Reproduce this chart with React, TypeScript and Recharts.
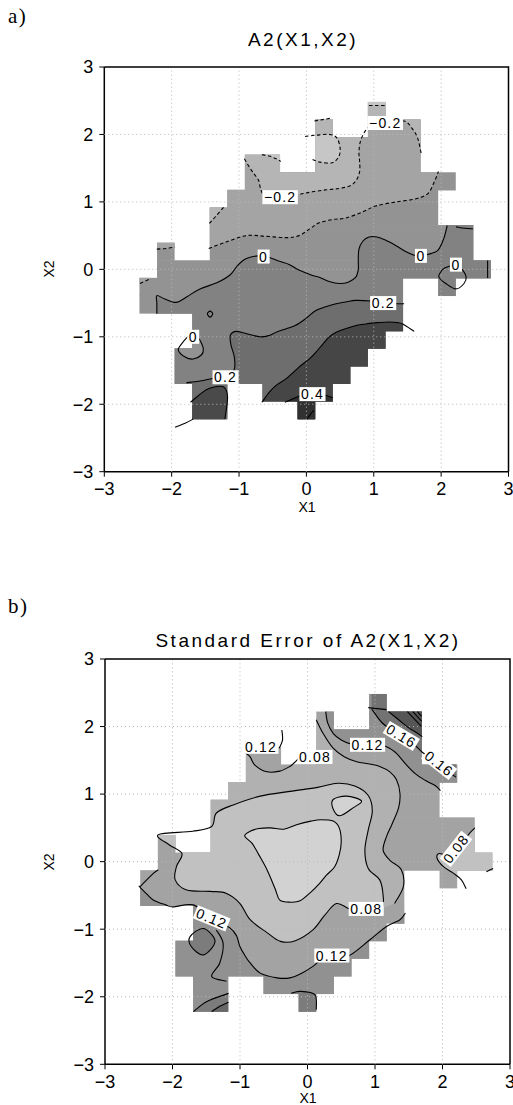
import React from 'react';
import { ScatterChart, Scatter, XAxis, YAxis } from 'recharts';

type P = [number, number];
interface Fill { color: string; line: P[]; close?: P[] }
interface Iso { pts: P[]; dash?: boolean; closed?: boolean }
interface Tag { x: number; y: number; t: string; r?: number }

const CELL = 6 / 23;
const TICKS = [-3, -2, -1, 0, 1, 2, 3];
const GRID = [-2, -1, 0, 1, 2];

// occupied grid cells per row: [row from top, first column, last column]
const MASK_ROWS: [number, number, number][] = [
  [2, 15, 15], [3, 12, 12], [3, 15, 17], [4, 12, 17], [5, 8, 9], [5, 12, 17],
  [6, 8, 19], [7, 7, 18], [8, 6, 18], [9, 6, 20], [10, 3, 3], [10, 6, 20],
  [11, 3, 21], [12, 2, 16], [12, 19, 19], [13, 2, 16], [14, 5, 16], [15, 5, 15],
  [16, 4, 14], [17, 4, 13], [18, 5, 6], [18, 9, 12], [19, 5, 6], [19, 11, 11],
];

// ---------- panel a : A2(X1,X2) ----------
const A_M03_LOOP: P[] = [[-0.02, 1.97], [0.15, 1.99], [0.34, 2.0], [0.45, 1.95], [0.5, 1.8], [0.48, 1.67], [0.38, 1.58], [0.2, 1.59], [0.09, 1.63]];
const A_M03_B: P[] = [[-0.66, 1.7], [-0.55, 1.68], [-0.45, 1.64], [-0.38, 1.6]];
const A_M03_C: P[] = [[0.93, 2.43], [1.05, 2.43], [1.17, 2.43]];
const A_M03_D: P[] = [[0.12, 2.2], [0.24, 2.22], [0.36, 2.24]];
const A_M02: P[] = [[-0.92, 1.64], [-0.85, 1.52], [-0.78, 1.42], [-0.71, 1.32], [-0.68, 1.2], [-0.62, 1.1], [-0.4, 1.08], [-0.12, 1.11], [0.09, 1.15], [0.3, 1.18], [0.49, 1.2], [0.65, 1.24], [0.74, 1.32], [0.79, 1.45], [0.79, 1.6], [0.78, 1.72], [0.8, 1.89], [0.88, 2.06], [1.0, 2.15], [1.2, 2.18], [1.45, 2.2], [1.56, 2.1], [1.65, 1.95], [1.71, 1.69]];
const A_M02_B: P[] = [[-1.44, 0.68], [-1.35, 0.78], [-1.23, 0.92]];
const A_M01: P[] = [[-1.45, 0.31], [-1.18, 0.41], [-0.89, 0.5], [-0.6, 0.49], [-0.3, 0.47], [-0.11, 0.5], [0.05, 0.6], [0.19, 0.69], [0.4, 0.74], [0.58, 0.76], [0.83, 0.85], [1.03, 0.94], [1.33, 1.0], [1.6, 1.04], [1.8, 1.12], [1.9, 1.3], [1.96, 1.45]];
const A_M01_B: P[] = [[-2.22, 0.3], [-2.08, 0.31], [-1.95, 0.33]];
const A_M01_C: P[] = [[-2.47, -0.21], [-2.32, -0.14]];
const A_Z: P[] = [[-2.22, -0.66], [-2.22, -0.5], [-2.22, -0.39], [-2.1, -0.44], [-1.93, -0.49], [-1.78, -0.41], [-1.58, -0.29], [-1.33, -0.2], [-1.13, -0.08], [-1.02, 0.06], [-0.89, 0.16], [-0.72, 0.2], [-0.56, 0.18], [-0.4, 0.12], [-0.25, 0.07], [-0.11, -0.01], [0.09, -0.09], [0.2, -0.12], [0.34, -0.18], [0.49, -0.21], [0.62, -0.19], [0.73, -0.12], [0.77, 0.0], [0.77, 0.13], [0.78, 0.3], [0.84, 0.42], [0.93, 0.48], [1.05, 0.48], [1.18, 0.43], [1.33, 0.35], [1.48, 0.26], [1.6, 0.21], [1.7, 0.2], [1.8, 0.22], [1.95, 0.28], [2.04, 0.46], [2.09, 0.65]];
const A_Z_LOOP_L: P[] = [[-1.72, -0.97], [-1.85, -1.1], [-1.9, -1.2], [-1.8, -1.3], [-1.68, -1.33], [-1.56, -1.27], [-1.53, -1.18], [-1.58, -1.05], [-1.64, -0.98]];
const A_Z_DIAMOND: P[] = [[-1.43, -0.62], [-1.39, -0.66], [-1.43, -0.71], [-1.47, -0.66]];
const A_Z_LOOP_R: P[] = [[2.05, 0.02], [1.98, -0.06], [1.97, -0.12], [2.07, -0.21], [2.22, -0.29], [2.34, -0.21], [2.37, -0.11], [2.3, 0.01], [2.22, 0.06]];
const A_P1_R1: P[] = [[2.22, 0.63], [2.35, 0.61], [2.47, 0.6]];
const A_P1_R2: P[] = [[2.69, 0.13], [2.69, -0.13]];
const A_P2: P[] = [[-1.78, -1.68], [-1.6, -1.66], [-1.45, -1.63], [-1.3, -1.6], [-1.15, -1.58], [-1.07, -1.48], [-1.07, -1.3], [-1.12, -1.12], [-1.13, -0.98], [-1.05, -0.92], [-0.9, -0.95], [-0.69, -1.0], [-0.55, -0.98], [-0.44, -0.93], [-0.3, -0.88], [-0.16, -0.83], [-0.01, -0.73], [0.14, -0.61], [0.3, -0.55], [0.44, -0.51], [0.6, -0.48], [0.73, -0.46], [0.95, -0.47], [1.14, -0.5], [1.33, -0.51], [1.45, -0.51]];
const A_P3_L: P[] = [[-1.72, -1.97], [-1.6, -1.87], [-1.48, -1.78], [-1.35, -1.74], [-1.22, -1.75], [-1.17, -1.9], [-1.21, -2.22]];
const A_P3: P[] = [[-0.66, -1.97], [-0.55, -1.82], [-0.45, -1.72], [-0.3, -1.62], [-0.11, -1.45], [0.04, -1.33], [0.14, -1.23], [0.25, -1.1], [0.34, -1.0], [0.45, -0.93], [0.58, -0.88], [0.75, -0.83], [0.88, -0.81], [1.05, -0.79], [1.23, -0.78], [1.35, -0.79], [1.43, -0.81], [1.6, -0.92]];
const A_P4_L: P[] = [[-1.95, -2.34], [-1.8, -2.28], [-1.68, -2.22]];
const A_P4: P[] = [[-0.32, -1.97], [-0.2, -1.92], [-0.05, -1.86], [0.09, -1.85], [0.25, -1.86], [0.39, -1.9]];
const A_P5: P[] = [[0.01, -2.22], [0.06, -2.15], [0.11, -2.09]];

const A_BASE = '#939393';
const A_FILLS: Fill[] = [
  { color: '#a4a4a4', line: A_M01, close: [[3, 1.45], [3, 3], [-3, 3], [-3, 0.31]] },
  { color: '#a4a4a4', line: A_M01_C, close: [[-2.3, -0.05], [-2.55, -0.05], [-2.55, -0.22]] },
  { color: '#b5b5b5', line: A_M02, close: [[1.75, 1.69], [1.75, 3], [-0.95, 3], [-0.95, 1.64]] },
  { color: '#b5b5b5', line: A_M02_B, close: [[-1.2, 1.2], [-1.6, 1.2], [-1.6, 0.68]] },
  { color: '#c6c6c6', line: A_M03_LOOP },
  { color: '#c6c6c6', line: A_M03_B, close: [[-0.38, 1.75], [-0.66, 1.75]] },
  { color: '#c6c6c6', line: A_M03_C, close: [[1.2, 2.5], [0.9, 2.5]] },
  { color: '#828282', line: A_Z, close: [[2.15, 0.9], [3, 0.9], [3, -3], [-3, -3], [-3, -0.8], [-2.3, -0.8]] },
  { color: '#939393', line: A_Z_LOOP_L },
  { color: '#6e6e6e', line: A_P2, close: [[3, -0.51], [3, -3], [-1.8, -3]] },
  { color: '#4a4a4a', line: A_P3_L, close: [[-1.21, -2.3], [-1.75, -2.3]] },
  { color: '#464646', line: A_P3, close: [[3, -0.92], [3, -3], [-0.66, -3]] },
  { color: '#313131', line: A_P4, close: [[0.45, -2.5], [-0.35, -2.5]] },
];
const A_ISOS: Iso[] = [
  { pts: A_M03_LOOP, dash: true }, { pts: A_M03_B, dash: true }, { pts: A_M03_C, dash: true }, { pts: A_M03_D, dash: true },
  { pts: A_M02, dash: true }, { pts: A_M02_B, dash: true },
  { pts: A_M01, dash: true }, { pts: A_M01_B, dash: true }, { pts: A_M01_C, dash: true },
  { pts: A_Z }, { pts: A_Z_LOOP_L, closed: true }, { pts: A_Z_DIAMOND, closed: true }, { pts: A_Z_LOOP_R, closed: true },
  { pts: A_P1_R1 }, { pts: A_P1_R2 },
  { pts: A_P2 }, { pts: A_P3_L }, { pts: A_P3 }, { pts: A_P4_L }, { pts: A_P4 }, { pts: A_P5 },
];
const A_TAGS: Tag[] = [
  { x: -0.39, y: 1.07, t: '−0.2' }, { x: 1.17, y: 2.17, t: '−0.2' },
  { x: -0.635, y: 0.19, t: '0' }, { x: 1.7, y: 0.2, t: '0' }, { x: 2.22, y: 0.07, t: '0' }, { x: -1.68, y: -1.0, t: '0' },
  { x: 1.14, y: -0.5, t: '0.2' }, { x: -1.2, y: -1.6, t: '0.2' }, { x: 0.09, y: -1.85, t: '0.4' },
];

// ---------- panel b : standard error ----------
const B_BLOB: P[] = [[-0.93, 0.38], [-0.85, 0.45], [-0.72, 0.49], [-0.55, 0.5], [-0.35, 0.48], [-0.15, 0.55], [0.05, 0.6], [0.2, 0.62], [0.38, 0.6], [0.47, 0.5], [0.5, 0.3], [0.47, 0.1], [0.4, -0.08], [0.28, -0.2], [0.18, -0.32], [0.05, -0.45], [-0.11, -0.58], [-0.25, -0.6], [-0.41, -0.57], [-0.48, -0.4], [-0.6, -0.12], [-0.72, 0.1], [-0.82, 0.27]];
const B_LOBE: P[] = [[0.38, 0.92], [0.58, 0.97], [0.8, 0.9], [0.68, 0.8], [0.48, 0.68], [0.38, 0.78]];
const B_08: P[] = [[-1.42, 0.52], [-1.7, 0.45], [-2.21, 0.4], [-2.05, 0.25], [-1.86, 0.12], [-1.94, -0.07], [-1.96, -0.27], [-1.79, -0.42], [-1.44, -0.44], [-1.2, -0.47], [-1.0, -0.62], [-0.85, -0.86], [-0.6, -1.05], [-0.4, -1.18], [-0.18, -1.17], [0.08, -1.01], [0.25, -0.8], [0.43, -0.62], [0.63, -0.7], [0.87, -0.7], [1.1, -0.68], [1.12, -0.5], [1.07, -0.27], [0.9, -0.1], [0.85, 0.17], [0.9, 0.47], [0.96, 0.75], [0.9, 0.98], [0.7, 1.12], [0.45, 1.16], [0.15, 1.1], [-0.26, 1.04], [-0.7, 0.97], [-1.1, 0.84], [-1.35, 0.72]];
const B_10_R: P[] = [[1.29, -0.62], [1.42, -0.37], [1.39, -0.12], [1.22, 0.02], [1.12, 0.17], [1.17, 0.37], [1.25, 0.55], [1.35, 0.8], [1.37, 1.01], [1.32, 1.21], [1.22, 1.33], [1.07, 1.41], [0.9, 1.45], [0.73, 1.48], [0.55, 1.55], [0.38, 1.68], [0.23, 1.9], [0.13, 2.1]];
const B_SUB10_CLOSE: P[] = [[0.05, 1.7], [-0.2, 1.46], [-0.26, 1.41], [-0.41, 1.34], [-0.6, 1.33], [-0.78, 1.43], [-0.88, 1.6], [-0.97, 1.62], [-1.2, 1.2], [-1.48, 0.9], [-1.46, 0.52], [-1.7, 0.46], [-2.22, 0.41], [-2.06, 0.25], [-1.87, 0.12], [-1.95, -0.07], [-1.97, -0.28], [-1.79, -0.43], [-1.44, -0.45], [-1.2, -0.48], [-1.0, -0.63], [-0.85, -0.87], [-0.6, -1.06], [-0.4, -1.19], [-0.18, -1.18], [0.08, -1.02], [0.25, -0.81], [0.43, -0.63], [0.63, -0.71], [0.87, -0.71], [1.11, -0.69]];
const B_U: P[] = [[-0.93, 1.62], [-0.85, 1.55], [-0.78, 1.43], [-0.6, 1.33], [-0.41, 1.34], [-0.26, 1.41], [-0.2, 1.46], [-0.14, 1.52]];
const B_08_R: P[] = [[2.48, 0.5], [2.4, 0.42], [2.3, 0.3], [2.2, 0.19], [2.08, 0.1], [1.95, 0.12], [1.92, 0.05], [2.01, -0.07], [2.16, -0.17], [2.28, -0.27], [2.35, -0.4]];
const B_12_PAREN: P[] = [[-0.38, 1.95], [-0.37, 1.8], [-0.42, 1.68]];
const B_12_TR: P[] = [[0.27, 2.22], [0.3, 2.05], [0.38, 1.9], [0.5, 1.8], [0.65, 1.74], [0.89, 1.73], [1.12, 1.72], [1.3, 1.62], [1.45, 1.45], [1.6, 1.3], [1.75, 1.2], [1.9, 1.12], [1.97, 1.05]];
const B_16: P[] = [[0.95, 2.26], [1.1, 2.06], [1.25, 1.95], [1.39, 1.86], [1.55, 1.76], [1.7, 1.62], [1.85, 1.52], [1.95, 1.45], [2.1, 1.32], [2.2, 1.25]];
const B_18: P[] = [[1.2, 2.22], [1.35, 2.1], [1.5, 1.98], [1.6, 1.92], [1.7, 1.85]];
const B_H1: P[] = [[1.48, 2.22], [1.69, 2.0]];
const B_H2: P[] = [[1.56, 2.22], [1.69, 2.08]];
const B_H3: P[] = [[1.63, 2.22], [1.69, 2.15]];
const B_TOP: P[] = [[0.9, 2.28], [1.17, 2.25]];
const B_12_BL: P[] = [[-2.5, -0.36], [-2.38, -0.48], [-2.28, -0.57], [-2.1, -0.64], [-1.99, -0.67], [-1.69, -0.64], [-1.42, -0.84], [-1.15, -0.98], [-1.05, -1.1], [-1.0, -1.26], [-0.92, -1.4], [-0.85, -1.5], [-0.7, -1.65], [-0.45, -1.72], [-0.26, -1.72], [-0.1, -1.66], [0.08, -1.55], [0.2, -1.45], [0.36, -1.39], [0.6, -1.4], [0.92, -1.16], [1.17, -0.96], [1.37, -0.86], [1.45, -0.76]];
const B_12_UP: P[] = [[-2.48, -0.37], [-2.28, -0.17], [-2.21, -0.12]];
const B_14_C: P[] = [[-1.74, -1.11], [-1.54, -0.99], [-1.37, -1.18], [-1.54, -1.38], [-1.72, -1.26]];
const B_14_L: P[] = [[-1.35, -1.01], [-1.25, -1.21], [-1.3, -1.5], [-1.42, -1.7], [-1.2, -1.77]];
const B_BOT1: P[] = [[-1.69, -2.22], [-1.49, -2.07], [-1.17, -1.95]];
const B_BOT2: P[] = [[-1.42, -2.22], [-1.3, -2.14], [-1.17, -2.08]];
const B_BOT3: P[] = [[-0.24, -1.95], [-0.11, -1.92], [0.11, -1.97], [0.13, -2.19]];
const B_RB: P[] = [[2.65, -0.15], [2.75, -0.1]];

const B_BASE = '#a3a3a3';
const B_FILLS: Fill[] = [
  { color: '#b1b1b1', line: B_10_R, close: B_SUB10_CLOSE },
  { color: '#c1c1c1', line: B_08 },
  { color: '#c1c1c1', line: B_08_R, close: [[3, -0.4], [3, 0.5]] },
  { color: '#d2d2d2', line: B_BLOB },
  { color: '#d2d2d2', line: B_LOBE },
  { color: '#919191', line: B_12_TR, close: [[3, 1.05], [3, 3], [0.27, 3]] },
  { color: '#919191', line: B_12_BL, close: [[1.45, -3], [-2.5, -3]] },
  { color: '#737373', line: B_16, close: [[2.2, 3], [0.95, 3]] },
  { color: '#565656', line: B_18, close: [[1.7, 2.3], [1.2, 2.3]] },
  { color: '#7c7c7c', line: B_14_C },
  { color: '#7c7c7c', line: B_BOT1, close: [[-1.17, -2.3], [-1.69, -2.3]] },
  { color: '#686868', line: B_BOT2, close: [[-1.17, -2.3], [-1.42, -2.3]] },
  { color: '#7c7c7c', line: B_BOT3, close: [[0.13, -2.3], [-0.24, -2.3]] },
];
const B_ISOS: Iso[] = [
  { pts: B_BLOB, closed: true }, { pts: B_LOBE, closed: true }, { pts: B_08, closed: true }, { pts: B_08_R },
  { pts: B_10_R }, { pts: B_U }, { pts: B_12_PAREN },
  { pts: B_12_TR }, { pts: B_16 }, { pts: B_18 }, { pts: B_H1 }, { pts: B_H2 }, { pts: B_H3 }, { pts: B_TOP },
  { pts: B_12_BL }, { pts: B_12_UP }, { pts: B_14_C, closed: true }, { pts: B_14_L },
  { pts: B_BOT1 }, { pts: B_BOT2 }, { pts: B_BOT3 }, { pts: B_RB },
];
const B_TAGS: Tag[] = [
  { x: -0.69, y: 1.7, t: '0.12' }, { x: 0.11, y: 1.55, t: '0.08' }, { x: 0.89, y: 1.73, t: '0.12' },
  { x: 1.39, y: 1.86, t: '0.16', r: 31 }, { x: 1.95, y: 1.45, t: '0.16', r: 38 },
  { x: 2.2, y: 0.19, t: '0.08', r: -52 }, { x: 0.87, y: -0.7, t: '0.08' }, { x: 0.36, y: -1.39, t: '0.12' },
  { x: -1.42, y: -0.84, t: '0.12', r: 22 },
];

// ---------- rendering ----------
const FONT = '"Liberation Sans", Arial, Helvetica, sans-serif';
const SERIF = '"Liberation Serif", "Times New Roman", serif';
type XY = { x: number; y: number };
const toXY = (pts: P[]) => pts.map(([x, y]) => ({ x, y }));
const f2 = (v: number) => v.toFixed(2);

const crPath = (pts: XY[], closed: boolean): string => {
  const n = pts.length;
  if (n < 2) return '';
  const get = (i: number) => (closed ? pts[(i + n) % n] : pts[Math.max(0, Math.min(n - 1, i))]);
  let d = `M${f2(pts[0].x)},${f2(pts[0].y)}`;
  const segs = closed ? n : n - 1;
  for (let i = 0; i < segs; i++) {
    const p0 = get(i - 1), p1 = get(i), p2 = get(i + 1), p3 = get(i + 2);
    const c1x = p1.x + (p2.x - p0.x) / 6, c1y = p1.y + (p2.y - p0.y) / 6;
    const c2x = p2.x - (p3.x - p1.x) / 6, c2y = p2.y - (p3.y - p1.y) / 6;
    d += `C${f2(c1x)},${f2(c1y)} ${f2(c2x)},${f2(c2y)} ${f2(p2.x)},${f2(p2.y)}`;
  }
  return closed ? d + 'Z' : d;
};

const NoDot = () => <g />;
const fmt = (v: number) => (v < 0 ? '−' + Math.abs(v) : String(v));

const charW = (c: string) => (c === '.' ? 3.9 : c === '−' ? 8.2 : 7.8);
const TagShape = (sp: any) => {
  const { cx, cy, payload } = sp;
  const t: string = payload.t;
  const ls = 1.2;
  const w = t.split('').reduce((s, c) => s + charW(c) + ls, 0) + 3;
  return (
    <g transform={`translate(${cx},${cy}) rotate(${payload.r || 0})`}>
      <rect x={-w / 2} y={-7} width={w} height={14} fill="#fff" />
      <text x={0} y={5} textAnchor="middle" fontSize={14} fontFamily={FONT} letterSpacing={ls} fill="#000">{t}</text>
    </g>
  );
};

const MASK_PTS: XY[] = MASK_ROWS.flatMap(([m, k0, k1]) => [
  { x: -3 + k0 * CELL, y: 3 - (m + 1) * CELL },
  { x: -3 + (k1 + 1) * CELL, y: 3 - m * CELL },
]);

interface PanelProps {
  id: string; base: string; fills: Fill[]; isos: Iso[]; tags: Tag[];
  height: number; margin: { top: number; right: number; bottom: number; left: number }; yWidth: number;
}

function Panel(p: PanelProps) {
  const clip = `mask-${p.id}`;
  const tickStyle = { fill: '#000', fontSize: 18, fontFamily: FONT };
  const axisLine = { stroke: '#000', strokeWidth: 1.5 };
  const tickLine = { stroke: '#000', strokeWidth: 1 };
  const maskLine = (lp: any) => {
    const pts: XY[] = lp.points || [];
    const rects: { x: number; y: number; w: number; h: number }[] = [];
    for (let i = 0; i + 1 < pts.length; i += 2) {
      const a = pts[i], b = pts[i + 1];
      rects.push({ x: Math.min(a.x, b.x), y: Math.min(a.y, b.y) - 0.3, w: Math.abs(b.x - a.x), h: Math.abs(b.y - a.y) + 0.6 });
    }
    return (
      <g>
        <defs>
          <clipPath id={clip}>
            {rects.map((r, i) => <rect key={i} x={r.x} y={r.y} width={r.w} height={r.h} />)}
          </clipPath>
        </defs>
        {rects.map((r, i) => <rect key={i} x={r.x} y={r.y} width={r.w} height={r.h} fill={p.base} />)}
      </g>
    );
  };
  const fillLine = (f: Fill) => (lp: any) => {
    const pts: XY[] = lp.points || [];
    const n = f.line.length;
    const d = f.close
      ? crPath(pts.slice(0, n), false) + pts.slice(n).map((q) => `L${f2(q.x)},${f2(q.y)}`).join('') + 'Z'
      : crPath(pts, true);
    return <g clipPath={`url(#${clip})`}><path d={d} fill={f.color} stroke="none" /></g>;
  };
  const isoLine = (iso: Iso) => (lp: any) => (
    <path d={crPath(lp.points || [], !!iso.closed)} fill="none" stroke="#000" strokeWidth={1.1}
      strokeDasharray={iso.dash ? '3.5 2.5' : undefined} />
  );
  const plainLine = (stroke: string, w: number, dash?: string) => (lp: any) => {
    const pts: XY[] = lp.points || [];
    const d = pts.map((q, i) => `${i ? 'L' : 'M'}${f2(q.x)},${f2(q.y)}`).join('');
    return <path d={d} fill="none" stroke={stroke} strokeWidth={w} strokeDasharray={dash} />;
  };
  return (
    <ScatterChart width={513} height={p.height} margin={p.margin}>
      <XAxis type="number" dataKey="x" domain={[-3, 3]} ticks={TICKS} interval={0} tickFormatter={fmt}
        tick={tickStyle} tickSize={5} tickMargin={5.5} axisLine={axisLine} tickLine={tickLine} height={40} />
      <YAxis type="number" dataKey="y" domain={[-3, 3]} ticks={TICKS} interval={0} tickFormatter={fmt}
        tick={tickStyle} tickSize={5} tickMargin={6} axisLine={axisLine} tickLine={tickLine} width={p.yWidth} />
      <Scatter data={MASK_PTS} shape={NoDot} line={maskLine} isAnimationActive={false} />
      {p.fills.map((f, i) => (
        <Scatter key={`f${i}`} data={toXY([...f.line, ...(f.close || [])])} shape={NoDot} line={fillLine(f)} isAnimationActive={false} />
      ))}
      {GRID.map((g) => (
        <Scatter key={`gv${g}`} data={toXY([[g, -3], [g, 3]])} shape={NoDot} line={plainLine('#b8b8b8', 1, '1 3')} isAnimationActive={false} />
      ))}
      {GRID.map((g) => (
        <Scatter key={`gh${g}`} data={toXY([[-3, g], [3, g]])} shape={NoDot} line={plainLine('#b8b8b8', 1, '1 3')} isAnimationActive={false} />
      ))}
      {p.isos.map((iso, i) => (
        <Scatter key={`i${i}`} data={toXY(iso.pts)} shape={NoDot} line={isoLine(iso)} isAnimationActive={false} />
      ))}
      <Scatter data={toXY([[-3, 3], [3, 3], [3, -3]])} shape={NoDot} line={plainLine('#000', 1.5)} isAnimationActive={false} />
      <Scatter data={p.tags} shape={TagShape} isAnimationActive={false} />
    </ScatterChart>
  );
}

const txt = (style: React.CSSProperties): React.CSSProperties => ({ position: 'absolute', margin: 0, whiteSpace: 'nowrap', color: '#000', ...style });

export default function App() {
  return (
    <div style={{ position: 'absolute', left: 0, top: 0, width: 513, height: 1105, background: '#fff', overflow: 'hidden' }}>
      <div style={{ position: 'absolute', left: 0, top: 0 }}>
        <Panel id="a" base={A_BASE} fills={A_FILLS} isos={A_ISOS} tags={A_TAGS} height={520}
          margin={{ top: 67, right: 4.5, bottom: 8.3, left: 0 }} yWidth={104.3} />
      </div>
      <div style={{ position: 'absolute', left: 0, top: 560 }}>
        <Panel id="b" base={B_BASE} fills={B_FILLS} isos={B_ISOS} tags={B_TAGS} height={545}
          margin={{ top: 99, right: 3, bottom: 0.7, left: 0 }} yWidth={105} />
      </div>
      <div style={txt({ left: 8, top: 6, fontFamily: SERIF, fontSize: 21, lineHeight: '21px', letterSpacing: 1.5 })}>a)</div>
      <div style={txt({ left: 8, top: 596, fontFamily: SERIF, fontSize: 21, lineHeight: '21px', letterSpacing: 1.5 })}>b)</div>
      <div style={txt({ left: 103, width: 400, top: 30, textAlign: 'center', fontFamily: FONT, fontSize: 19, lineHeight: '19px', letterSpacing: 2.5 })}>A2(X1,X2)</div>
      <div style={txt({ left: 108, width: 400, top: 631, textAlign: 'center', fontFamily: FONT, fontSize: 19, lineHeight: '19px', letterSpacing: 2.5 })}>Standard Error of A2(X1,X2)</div>
      <div style={txt({ left: 287, width: 40, top: 500, textAlign: 'center', fontFamily: FONT, fontSize: 14, lineHeight: '14px' })}>X1</div>
      <div style={txt({ left: 288, width: 40, top: 1091, textAlign: 'center', fontFamily: FONT, fontSize: 14, lineHeight: '14px' })}>X1</div>
      <div style={txt({ left: 29, width: 40, top: 262, textAlign: 'center', fontFamily: FONT, fontSize: 14, lineHeight: '14px', transform: 'rotate(-90deg)' })}>X2</div>
      <div style={txt({ left: 29, width: 40, top: 855, textAlign: 'center', fontFamily: FONT, fontSize: 14, lineHeight: '14px', transform: 'rotate(-90deg)' })}>X2</div>
    </div>
  );
}
